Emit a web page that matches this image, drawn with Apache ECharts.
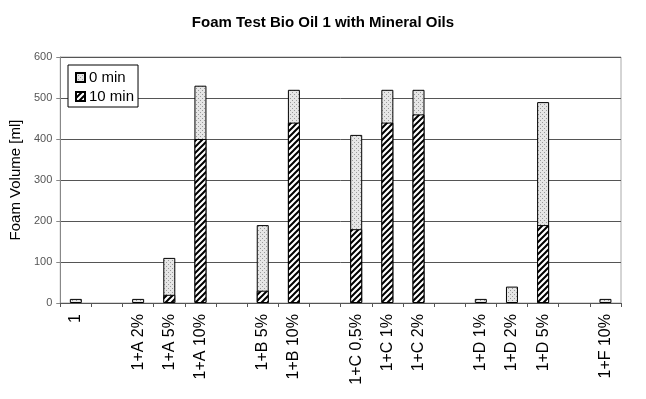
<!DOCTYPE html>
<html>
<head>
<meta charset="utf-8">
<script src="https://cdn.jsdelivr.net/npm/echarts@6/dist/echarts.min.js"></script>
<style>
  html, body { margin: 0; padding: 0; background: #fff; }
  #chart { width: 646px; height: 399px; }
</style>
</head>
<body>
<div id="chart"></div>
<script>
// categories (empty strings are the gaps between groups)
const categories = ['1', '', '1+A 2%', '1+A 5%', '1+A 10%', '', '1+B 5%', '1+B 10%', '',
  '1+C 0,5%', '1+C 1%', '1+C 2%', '', '1+D 1%', '1+D 2%', '1+D 5%', '', '1+F 10%'];
const min0 = [10, null, 10, 110, 530, null, 190, 520, null, 410, 520, 520, null, 10, 40, 490, null, 10];
const min10 = [null, null, null, 20, 400, null, 30, 440, null, 180, 440, 460, null, null, null, 190, null, null];
const yTicks = [0, 100, 200, 300, 400, 500, 600];

// fill patterns like the old Excel ones
function dotPattern() {
  let c = document.createElement('canvas');
  c.width = 4; c.height = 4;
  let g = c.getContext('2d');
  g.fillStyle = '#e6e6e6';
  g.fillRect(0, 0, 4, 4);
  g.fillStyle = '#9a9a9a';
  g.fillRect(0, 0, 1, 1);
  g.fillRect(2, 2, 1, 1);
  return c;
}
function hatchPattern() {
  let c = document.createElement('canvas');
  c.width = 6; c.height = 6;
  let g = c.getContext('2d');
  g.fillStyle = '#fff';
  g.fillRect(0, 0, 6, 6);
  g.strokeStyle = '#000';
  g.lineWidth = 2;
  g.beginPath();
  g.moveTo(-1, 7); g.lineTo(7, -1);
  g.moveTo(-4, 4); g.lineTo(4, -4);
  g.moveTo(2, 10); g.lineTo(10, 2);
  g.stroke();
  return c;
}

let myChart = echarts.init(document.getElementById('chart'));
myChart.setOption({
  animation: false,
  textStyle: { fontFamily: 'Liberation Sans, Arial, sans-serif' },
  title: {
    text: 'Foam Test Bio Oil 1 with Mineral Oils',
    left: 'center',
    top: 10,
    textStyle: { fontSize: 15, fontWeight: 'bold', color: '#000' }
  },
  legend: {
    orient: 'vertical',
    left: 68,
    top: 65,
    padding: [5, 4, 3, 7],
    itemGap: 4,
    itemWidth: 9,
    itemHeight: 9,
    borderColor: '#000',
    borderWidth: 1,
    backgroundColor: '#fff',
    data: [{ name: '0 min', icon: 'rect' }, { name: '10 min', icon: 'rect' }],
    textStyle: { fontSize: 15, color: '#000', padding: [0, 0, 0, -1] }
  },
  grid: { left: 58, right: 25, top: 57, bottom: 96, show: true, borderColor: '#aaa', borderWidth: 1 },
  xAxis: {
    type: 'category',
    data: categories,
    axisLine: { lineStyle: { color: '#555' } },
    axisTick: { show: true, length: 4, lineStyle: { color: '#555' } },
    axisLabel: { rotate: 90, fontSize: 16, color: '#000', margin: 11, interval: 0 }
  },
  yAxis: {
    type: 'value',
    min: yTicks[0],
    max: yTicks[yTicks.length - 1],
    interval: 100,
    name: 'Foam Volume [ml]',
    nameLocation: 'middle',
    nameGap: 36,
    nameTextStyle: { fontSize: 15, color: '#000' },
    axisLine: { show: true, lineStyle: { color: '#888' } },
    axisTick: { show: true, length: 4, lineStyle: { color: '#888' } },
    axisLabel: { fontSize: 11, color: '#555', margin: 8 },
    splitLine: { lineStyle: { color: '#555', width: 1 } }
  },
  series: [
    {
      name: '0 min',
      type: 'bar',
      data: min0,
      barWidth: 12,
      barGap: '-100%',
      itemStyle: { color: { image: dotPattern(), repeat: 'repeat' }, borderColor: '#000', borderWidth: 1 }
    },
    {
      name: '10 min',
      type: 'bar',
      data: min10,
      barWidth: 12,
      itemStyle: { color: { image: hatchPattern(), repeat: 'repeat' }, borderColor: '#000', borderWidth: 1 }
    }
  ]
});
</script>
</body>
</html>
